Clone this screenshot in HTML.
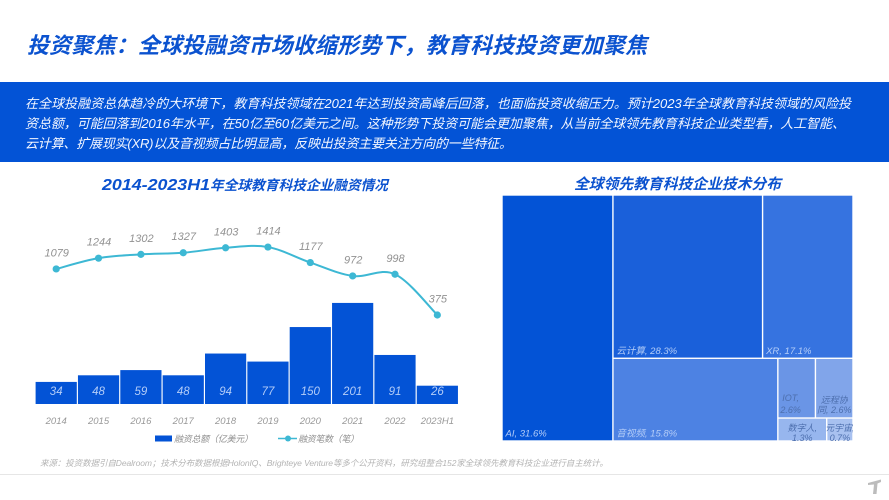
<!DOCTYPE html>
<html lang="zh">
<head>
<meta charset="utf-8">
<title>投资聚焦</title>
<style>
html,body{margin:0;padding:0;background:#fff;}
#page{display:block;width:889px;height:500px;}
text{font-family:"Liberation Sans","Noto Sans CJK SC",sans-serif;font-style:italic;}
</style>
</head>
<body>
<svg id="page" xmlns="http://www.w3.org/2000/svg" width="889" height="500" viewBox="0 0 889 500">
  <rect width="889" height="500" fill="#ffffff"/>
  <text x="27" y="53" font-size="22" font-weight="700" fill="#0b52cf" textLength="620" lengthAdjust="spacing">投资聚焦&#xFF1A;全球投融资市场收缩形势下&#xFF0C;教育科技投资更加聚焦</text>
  <rect x="0" y="82" width="889" height="80" fill="#0353d6"/>
  <text x="25" y="108" font-size="13" fill="#f2f6ff" textLength="826" lengthAdjust="spacing">在全球投融资总体趋冷的大环境下&#xFF0C;教育科技领域在2021年达到投资高峰后回落&#xFF0C;也面临投资收缩压力。预计2023年全球教育科技领域的风险投</text>
  <text x="25" y="128" font-size="13" fill="#f2f6ff" textLength="820" lengthAdjust="spacing">资总额&#xFF0C;可能回落到2016年水平&#xFF0C;在50亿至60亿美元之间。这种形势下投资可能会更加聚焦&#xFF0C;从当前全球领先教育科技企业类型看&#xFF0C;人工智能、</text>
  <text x="25" y="148" font-size="13" fill="#f2f6ff" textLength="487" lengthAdjust="spacing">云计算、扩展现实(XR)以及音视频占比明显高&#xFF0C;反映出投资主要关注方向的一些特征。</text>

  <text x="102" y="190" font-size="16" font-weight="700" fill="#0b52cf" textLength="108" lengthAdjust="spacingAndGlyphs">2014-2023H1</text>
  <text x="210" y="190" font-size="13.7" font-weight="700" fill="#0b52cf" textLength="178" lengthAdjust="spacing">年全球教育科技企业融资情况</text>
  <g id="bars"></g>
  <g id="line"></g>
  <g id="xaxis"></g>

  <g>
    <rect x="155" y="435.5" width="17" height="6" fill="#0353d6"/>
    <text x="174" y="442" font-size="9" fill="#909090" textLength="79" lengthAdjust="spacing">融资总额&#xFF08;亿美元&#xFF09;</text>
    <line x1="278" y1="438.5" x2="297" y2="438.5" stroke="#3db8d4" stroke-width="1.6"/>
    <circle cx="288" cy="438.5" r="3" fill="#3db8d4"/>
    <text x="298" y="442" font-size="9" fill="#909090" textLength="61" lengthAdjust="spacing">融资笔数&#xFF08;笔&#xFF09;</text>
  </g>

  <text x="574" y="189" font-size="14.8" font-weight="700" fill="#0b52cf" textLength="207" lengthAdjust="spacing">全球领先教育科技企业技术分布</text>
  <g id="treemap"></g>

  <text x="40" y="466" font-size="8.5" fill="#b4b4b4" textLength="568" lengthAdjust="spacing">来源&#xFF1A;投资数据引自Dealroom&#xFF1B;技术分布数据根据HolonIQ、Brighteye Venture等多个公开资料&#xFF0C;研究组整合152家全球领先教育科技企业进行自主统计。</text>
  <line x1="0" y1="474.5" x2="889" y2="474.5" stroke="#e6e6e6" stroke-width="1"/>
  <path d="M868 483 L881 479.5 L881 482 L877.5 483.5 L876.5 494 L873 494 L874 484.5 L868 485 Z" fill="#bcbcbc"/>
</svg>
<script>
var years = ['2014','2015','2016','2017','2018','2019','2020','2021','2022','2023H1'];
var fundingValues = [34,48,59,48,94,77,150,201,91,26];
var dealValues = [1079,1244,1302,1327,1403,1414,1177,972,998,375];
var techNames = ['AI','云计算','XR','音视频','IOT','远程协同','数字人','元宇宙'];
var techShares = [31.6,28.3,17.1,15.8,2.6,2.6,1.3,0.7];

var SVGNS = 'http://www.w3.org/2000/svg';
function make(tag, attrs, parent, content) {
  var el = document.createElementNS(SVGNS, tag);
  for (var k in attrs) el.setAttribute(k, attrs[k]);
  if (content !== undefined) el.textContent = content;
  parent.appendChild(el);
  return el;
}
function xCenter(i) { return 56.2 + i * 42.35; }
function barY(v) { return 398 - 0.473 * v; }
function lineY(v) { return 315 - (v - 375) * 0.0654; }

var barsG = document.getElementById('bars');
var lineG = document.getElementById('line');
var axisG = document.getElementById('xaxis');

fundingValues.forEach(function (v, i) {
  var cx = xCenter(i);
  var bar = make('rect', {x: cx - 20.6, y: barY(v), width: 41.2, height: 404 - barY(v), fill: '#0353d6'}, barsG);
  
  
  var lab = make('text', {x: cx, y: 395, 'font-size': 11.5, fill: '#b4cdf8', 'text-anchor': 'middle'}, barsG, String(v));
  
  
  var tick = make('text', {x: cx, y: 424, 'font-size': 9.5, fill: '#999999', 'text-anchor': 'middle'}, axisG, years[i]);
  
  
});

var pts = dealValues.map(function (v, i) { return [xCenter(i), lineY(v)]; });
var d = 'M' + pts[0][0] + ' ' + pts[0][1];
for (var i = 0; i < pts.length - 1; i++) {
  var p0 = pts[Math.max(i - 1, 0)], p1 = pts[i], p2 = pts[i + 1], p3 = pts[Math.min(i + 2, pts.length - 1)];
  var t = 0.17;
  d += ' C' + (p1[0] + (p2[0] - p0[0]) * t) + ' ' + (p1[1] + (p2[1] - p0[1]) * t) + ',' +
       (p2[0] - (p3[0] - p1[0]) * t) + ' ' + (p2[1] - (p3[1] - p1[1]) * t) + ',' + p2[0] + ' ' + p2[1];
}
var curve = make('path', {d: d, fill: 'none', stroke: '#3db8d4', 'stroke-width': 2}, lineG);


dealValues.forEach(function (v, i) {
  var dot = make('circle', {cx: pts[i][0], cy: pts[i][1], r: 3.6, fill: '#3db8d4'}, lineG);
  
  
  var lab = make('text', {x: pts[i][0] + 0.5, y: pts[i][1] - 12.5, 'font-size': 11, fill: '#929292', 'text-anchor': 'middle'}, lineG, String(v));
  
  
});

/* Treemap layout is derived from the shares: column, row, then nested split. */
var TX = 502, TY = 195, TW = 351, TH = 246;
var cellFills = ['#0353d6','#1a60da','#3673e0','#4d82e3','#6a95e6','#81a5ea','#97b6ee','#a8c1f0'];
function sum(a, b) { var s = 0; for (var j = a; j <= b; j++) s += techShares[j]; return s; }
var total = sum(0, 7);
var aiW = TW * techShares[0] / total;
var restX = TX + aiW, restW = TW - aiW;
var topH = TH * sum(1, 2) / sum(1, 7);
var cloudW = restW * techShares[1] / sum(1, 2);
var botY = TY + topH, botH = TH - topH;
var avW = restW * techShares[3] / sum(3, 7);
var smallX = restX + avW, smallW = restW - avW;
var smallTopH = botH * sum(4, 5) / sum(4, 7);
var iotW = smallW * techShares[4] / sum(4, 5);
var digitalW = smallW * techShares[6] / sum(6, 7);
var cells = [
  [TX, TY, aiW, TH],
  [restX, TY, cloudW, topH],
  [restX + cloudW, TY, restW - cloudW, topH],
  [restX, botY, avW, botH],
  [smallX, botY, iotW, smallTopH],
  [smallX + iotW, botY, smallW - iotW, smallTopH],
  [smallX, botY + smallTopH, digitalW, botH - smallTopH],
  [smallX + digitalW, botY + smallTopH, smallW - digitalW, botH - smallTopH]
];
var treeG = document.getElementById('treemap');
var defs = make('defs', {}, treeG);
techNames.forEach(function (name, i) {
  var c = cells[i];
  var rect = make('rect', {x: c[0] + 0.7, y: c[1] + 0.7, width: c[2] - 1.4, height: c[3] - 1.4, fill: cellFills[i]}, treeG);
  
  
  var clip = make('clipPath', {id: 'cell-clip-' + i}, defs);
  make('rect', {x: c[0], y: c[1], width: c[2], height: c[3]}, clip);
  var value = techShares[i] + '%';
  var big = i < 4;
  var lines;
  if (big) lines = [name + ', ' + value];
  else if (name.length > 3) lines = [name.slice(0, 3), name.slice(3) + ', ' + value];
  else lines = [name + ',', value];
  var bottomGap = big ? 4.5 : (i < 6 ? 5 : 0);
  var shortTopCell = !big && i < 6 && name.length < 4;
  var lineGap = shortTopCell ? 12 : 10;
  lines.forEach(function (txt, li) {
    var lab = make('text', {
      x: big ? c[0] + 3.5 : c[0] + c[2] / 2 - (shortTopCell ? 6 : 0),
      y: c[1] + c[3] - bottomGap - (lines.length - 1 - li) * (big ? 0 : lineGap),
      'font-size': big ? 9.5 : 9,
      fill: big ? '#b4cdf8' : '#4d6fae',
      'text-anchor': big ? 'start' : 'middle',
      'clip-path': 'url(#cell-clip-' + i + ')'
    }, treeG, txt);
    
    
  });
});
</script>
</body>
</html>
